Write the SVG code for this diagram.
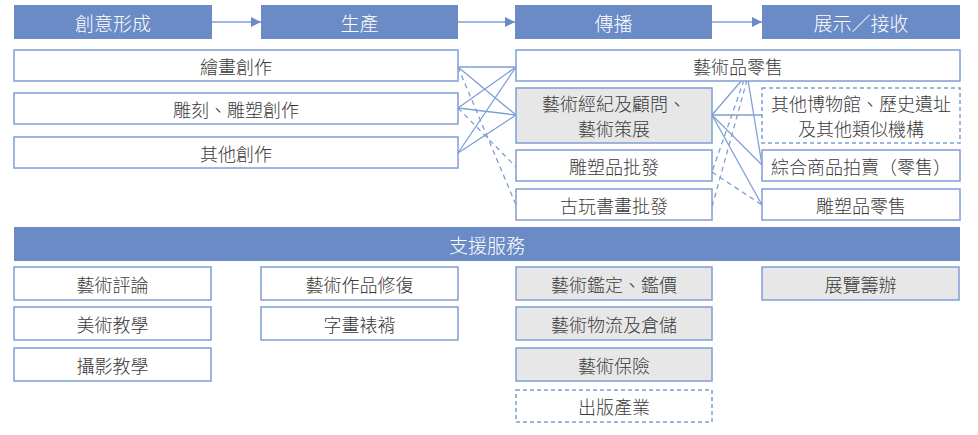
<svg xmlns="http://www.w3.org/2000/svg" width="978" height="435" viewBox="0 0 978 435">
<defs>
<style>
.hdr{fill:#6a8bc6;}
.ht{font-family:"Noto Sans CJK TC","Noto Sans CJK SC",sans-serif;font-size:19px;font-weight:300;fill:#ffffff;text-anchor:middle;dominant-baseline:central;}
.box{fill:#ffffff;stroke:#7f9fd5;stroke-width:1.5;}
.gbox{fill:#e7e7e7;stroke:#7f9fd5;stroke-width:1.5;}
.dbox{fill:#ffffff;stroke:#7f9fd5;stroke-width:1.5;stroke-dasharray:4 3;}
.t{font-family:"Noto Sans CJK TC","Noto Sans CJK SC",sans-serif;font-size:18px;font-weight:300;fill:#3a3a3a;text-anchor:middle;dominant-baseline:central;}
.c{stroke:#7f9fd5;stroke-width:1.3;fill:none;}
.cd{stroke:#7f9fd5;stroke-width:1.3;fill:none;stroke-dasharray:5 4;}
</style>
<marker id="arr" viewBox="0 0 10 10" refX="10" refY="5" markerWidth="10" markerHeight="10" markerUnits="userSpaceOnUse" orient="auto">
<path d="M0,0 L10,5 L0,10 z" fill="#6a8bc6"/>
</marker>
</defs>
<rect width="978" height="435" fill="#ffffff"/>

<g id="connectors">
<line class="c" x1="212" y1="22" x2="261" y2="22" marker-end="url(#arr)"/>
<line class="c" x1="458" y1="22" x2="515" y2="22" marker-end="url(#arr)"/>
<line class="c" x1="712" y1="22" x2="762" y2="22" marker-end="url(#arr)"/>
<line class="c" x1="458" y1="67" x2="516" y2="67"/>
<line class="c" x1="458" y1="67" x2="516" y2="115"/>
<line class="c" x1="458" y1="108" x2="516" y2="67"/>
<line class="c" x1="458" y1="108" x2="516" y2="115"/>
<line class="c" x1="458" y1="153" x2="516" y2="67"/>
<line class="c" x1="458" y1="153" x2="516" y2="115"/>
<line class="cd" x1="458" y1="67" x2="516" y2="205"/>
<line class="cd" x1="458" y1="108" x2="516" y2="167"/>
<line class="c" x1="712" y1="115" x2="742" y2="80"/>
<line class="c" x1="748" y1="80" x2="762" y2="165"/>
<line class="cd" x1="744" y1="80" x2="712" y2="172"/>
<line class="cd" x1="747" y1="80" x2="712" y2="207"/>
<line class="c" x1="712" y1="115" x2="762" y2="115"/>
<line class="c" x1="712" y1="115" x2="762" y2="165"/>
<line class="c" x1="712" y1="115" x2="762" y2="205"/>
<line class="cd" x1="712" y1="172" x2="762" y2="205"/>
</g>

<g id="h1"><rect class="hdr" x="14" y="5" width="198" height="34"/><text class="ht" x="113" y="22">創意形成</text></g>
<g id="h2"><rect class="hdr" x="261" y="5" width="197" height="34"/><text class="ht" x="359.5" y="22">生產</text></g>
<g id="h3"><rect class="hdr" x="515" y="5" width="197" height="34"/><text class="ht" x="613.5" y="22">傳播</text></g>
<g id="h4"><rect class="hdr" x="762" y="5" width="198" height="34"/><text class="ht" x="861" y="22">展示／接收</text></g>

<g id="n-painting"><rect class="box" x="14" y="50" width="444" height="31"/><text class="t" x="236" y="65.5">繪畫創作</text></g>
<g id="n-sculpt"><rect class="box" x="14" y="93" width="444" height="31"/><text class="t" x="236" y="108.5">雕刻、雕塑創作</text></g>
<g id="n-other"><rect class="box" x="14" y="137" width="444" height="31"/><text class="t" x="236" y="152.5">其他創作</text></g>

<g id="n-retail"><rect class="box" x="516" y="50" width="444" height="31"/><text class="t" x="738" y="65.5">藝術品零售</text></g>
<g id="n-agent"><rect class="gbox" x="516" y="88" width="196" height="55"/><text class="t" x="614" y="103">藝術經紀及顧問、</text><text class="t" x="614" y="128">藝術策展</text></g>
<g id="n-sculptwh"><rect class="box" x="516" y="150" width="196" height="31"/><text class="t" x="614" y="165.5">雕塑品批發</text></g>
<g id="n-antiquewh"><rect class="box" x="516" y="189" width="196" height="31"/><text class="t" x="614" y="204.5">古玩書畫批發</text></g>

<g id="n-museum"><rect class="dbox" x="762" y="88" width="198" height="55"/><text class="t" x="861" y="103">其他博物館、歷史遺址</text><text class="t" x="861" y="128">及其他類似機構</text></g>
<g id="n-auction"><rect class="box" x="762" y="150" width="198" height="31"/><text class="t" x="861" y="165.5">綜合商品拍賣（零售）</text></g>
<g id="n-sculptretail"><rect class="box" x="762" y="189" width="198" height="31"/><text class="t" x="861" y="204.5">雕塑品零售</text></g>

<g id="support"><rect class="hdr" x="14" y="227" width="946" height="34"/><text class="ht" x="487" y="244">支援服務</text></g>

<g id="s-critique"><rect class="box" x="14" y="267" width="197" height="33"/><text class="t" x="112.5" y="283.5">藝術評論</text></g>
<g id="s-artedu"><rect class="box" x="14" y="307" width="197" height="33"/><text class="t" x="112.5" y="323.5">美術教學</text></g>
<g id="s-photoedu"><rect class="box" x="14" y="348" width="197" height="33"/><text class="t" x="112.5" y="364.5">攝影教學</text></g>

<g id="s-restore"><rect class="box" x="261" y="267" width="197" height="33"/><text class="t" x="359.5" y="283.5">藝術作品修復</text></g>
<g id="s-mount"><rect class="box" x="261" y="307" width="197" height="33"/><text class="t" x="359.5" y="323.5">字畫裱褙</text></g>

<g id="s-appraise"><rect class="gbox" x="516" y="267" width="196" height="33"/><text class="t" x="614" y="283.5">藝術鑑定、鑑價</text></g>
<g id="s-logistics"><rect class="gbox" x="516" y="307" width="196" height="33"/><text class="t" x="614" y="323.5">藝術物流及倉儲</text></g>
<g id="s-insurance"><rect class="gbox" x="516" y="348" width="196" height="33"/><text class="t" x="614" y="364.5">藝術保險</text></g>
<g id="s-publish"><rect class="dbox" x="516" y="390" width="196" height="32"/><text class="t" x="614" y="406">出版產業</text></g>

<g id="s-exhibit"><rect class="gbox" x="762" y="267" width="197" height="33"/><text class="t" x="860.5" y="283.5">展覽籌辦</text></g>
</svg>
